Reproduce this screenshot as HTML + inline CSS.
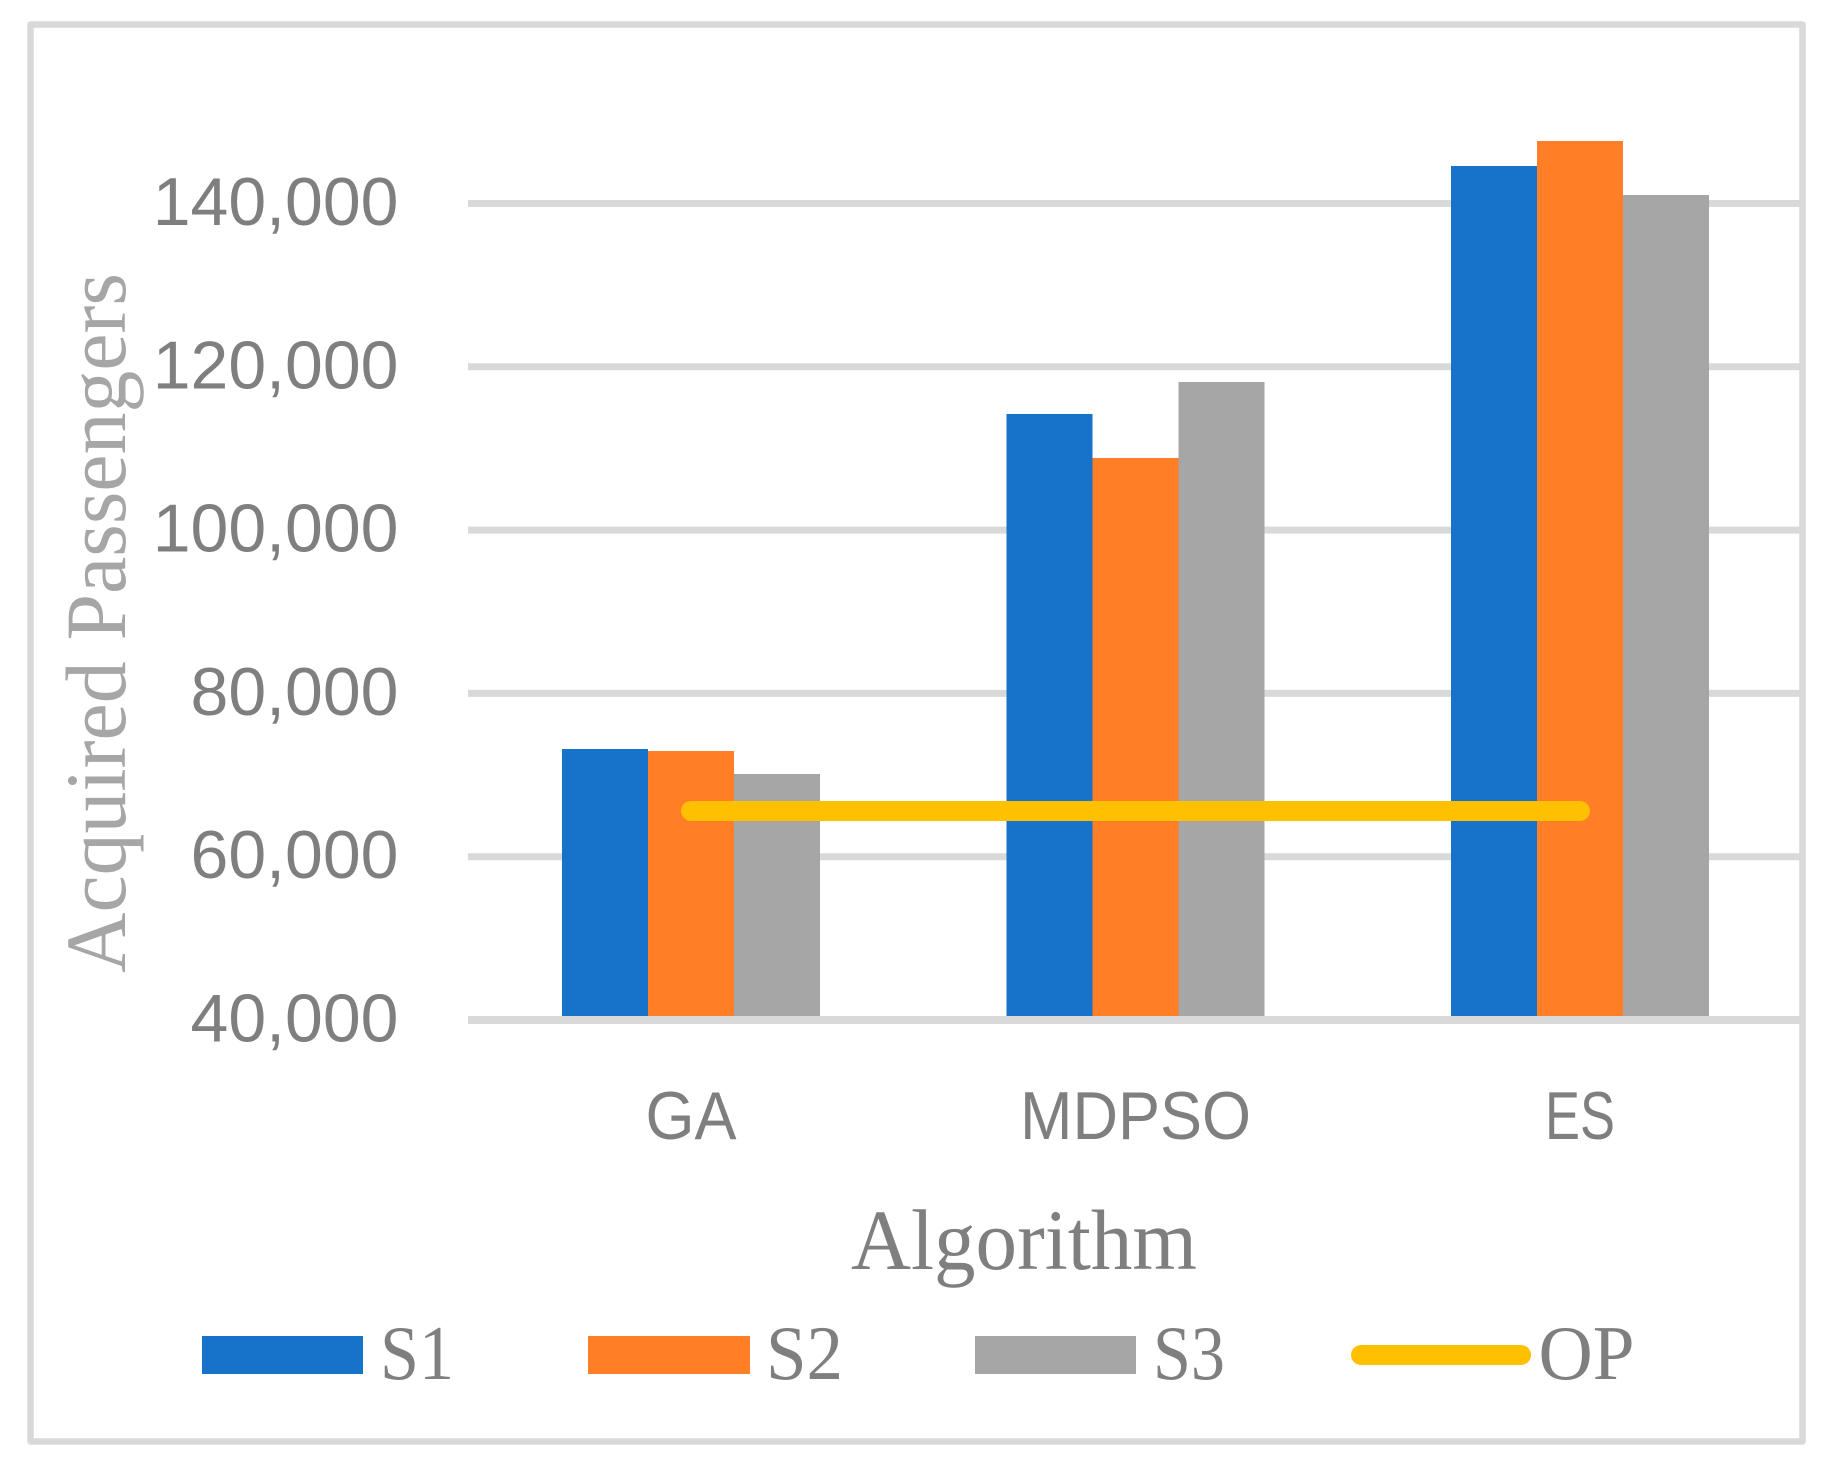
<!DOCTYPE html>
<html lang="en">
<head>
<meta charset="utf-8">
<title>Acquired Passengers by Algorithm</title>
<style>
  html, body { margin: 0; padding: 0; background: #ffffff; }
  svg { display: block; }
  .serif { font-family: "Liberation Serif", serif; }
  .sans { font-family: "Liberation Sans", sans-serif; }
</style>
</head>
<body>
<svg id="chart" xmlns="http://www.w3.org/2000/svg" width="1830" height="1470" viewBox="0 0 1830 1470">
  <rect x="0" y="0" width="1830" height="1470" fill="#ffffff"/>
  <rect x="30.5" y="24.5" width="1772" height="1417" fill="#ffffff" stroke="#d9d9d9" stroke-width="6.5" stroke-linejoin="round"/>
  <g id="grid"></g>
  <g id="y-ticks"></g>
  <g id="bars"></g>
  <g id="axis"></g>
  <g id="x-labels"></g>
  <g id="op-layer"></g>

  <text class="serif" transform="translate(125,973) rotate(-90)" font-size="86" fill="#a6a6a6" textLength="700" lengthAdjust="spacingAndGlyphs">Acquired Passengers</text>
  <text class="serif" x="851" y="1269" font-size="86" fill="#7f7f7f" textLength="346" lengthAdjust="spacingAndGlyphs">Algorithm</text>

  <g>
    <g>
      <rect x="202" y="1336" width="161" height="38" fill="#1772c9"/>
      <text class="serif" x="380" y="1379" font-size="77" fill="#7f7f7f" textLength="74" lengthAdjust="spacingAndGlyphs">S1</text>
    </g>
    <g>
      <rect x="588" y="1336" width="162" height="38" fill="#ff7e26"/>
      <text class="serif" x="766" y="1379" font-size="77" fill="#7f7f7f" textLength="77" lengthAdjust="spacingAndGlyphs">S2</text>
    </g>
    <g>
      <rect x="975" y="1336" width="161" height="38" fill="#a6a6a6"/>
      <text class="serif" x="1153" y="1379" font-size="77" fill="#7f7f7f" textLength="72" lengthAdjust="spacingAndGlyphs">S3</text>
    </g>
    <g>
      <line x1="1361" y1="1355" x2="1521" y2="1355" stroke="#ffc000" stroke-width="20" stroke-linecap="round"/>
      <text class="serif" x="1538.5" y="1379" font-size="77" fill="#7f7f7f" textLength="96" lengthAdjust="spacingAndGlyphs">OP</text>
    </g>
  </g>
</svg>
<script>
const categories = ["GA", "MDPSO", "ES"];
const s1Values = [73190, 114220, 144590];
const s2Values = [72945, 108830, 147655];
const s3Values = [70130, 118140, 141040];
const opValues = [65600, 65600, 65600];
const yTickValues = [40000, 60000, 80000, 100000, 120000, 140000];
const yTickLabels = ["40,000", "60,000", "80,000", "100,000", "120,000", "140,000"];

const SVG_NS = "http://www.w3.org/2000/svg";
const seriesColors = ["#1772c9", "#ff7e26", "#a6a6a6"];
const seriesNames = ["s1", "s2", "s3"];
const seriesData = [s1Values, s2Values, s3Values];
const catLabelFit = { GA: 91, MDPSO: 231, ES: 70 };

function yScale(v) { return 1020 - (v - 40000) / 20000 * 163.3; }
function xCenter(i) { return 691 + i * 444.5; }
const BAR_W = 86;

function make(tag, attrs, parent) {
  const el = document.createElementNS(SVG_NS, tag);
  for (const k in attrs) el.setAttribute(k, attrs[k]);
  parent.appendChild(el);
  return el;
}

const gridG = document.getElementById("grid");
const yTicksG = document.getElementById("y-ticks");
const barsG = document.getElementById("bars");
const axisG = document.getElementById("axis");
const xLabelsG = document.getElementById("x-labels");
const opG = document.getElementById("op-layer");

yTickValues.forEach(function (v, i) {
  const y = yScale(v);
  if (i > 0) {
    const g = make("line", { x1: 468, x2: 1802, y1: y, y2: y, stroke: "#d9d9d9", "stroke-width": 7 }, gridG);
    
    
  }
  const t = make("text", { x: 398.5, y: y + 21.5, "text-anchor": "end", "font-size": 68, fill: "#7f7f7f", class: "sans" }, yTicksG);
  
  
  t.textContent = yTickLabels[i];
});

categories.forEach(function (cat, c) {
  seriesData.forEach(function (vals, s) {
    const top = yScale(vals[c]);
    const r = make("rect", {
      x: xCenter(c) - BAR_W * 1.5 + s * BAR_W,
      y: top,
      width: BAR_W,
      height: yScale(40000) - top,
      fill: seriesColors[s]
    }, barsG);
    
    
    r.setAttribute('data-series', seriesNames[s]);
  });
  const t = make("text", {
    x: xCenter(c),
    y: 1139,
    "text-anchor": "middle",
    "font-size": 68,
    fill: "#7f7f7f",
    class: "sans",
    textLength: catLabelFit[cat],
    lengthAdjust: "spacingAndGlyphs"
  }, xLabelsG);
  
  
  t.textContent = cat;
});

const axisLine = make("line", { x1: 468, x2: 1802, y1: yScale(40000), y2: yScale(40000), stroke: "#d9d9d9", "stroke-width": 8 }, axisG);



const opPoints = opValues.map(function (v, i) { return xCenter(i) + "," + yScale(v); }).join(" ");
const opLine = make("polyline", { points: opPoints, fill: "none", stroke: "#ffc000", "stroke-width": 20, "stroke-linecap": "round", "stroke-linejoin": "round" }, opG);


</script>
</body>
</html>
